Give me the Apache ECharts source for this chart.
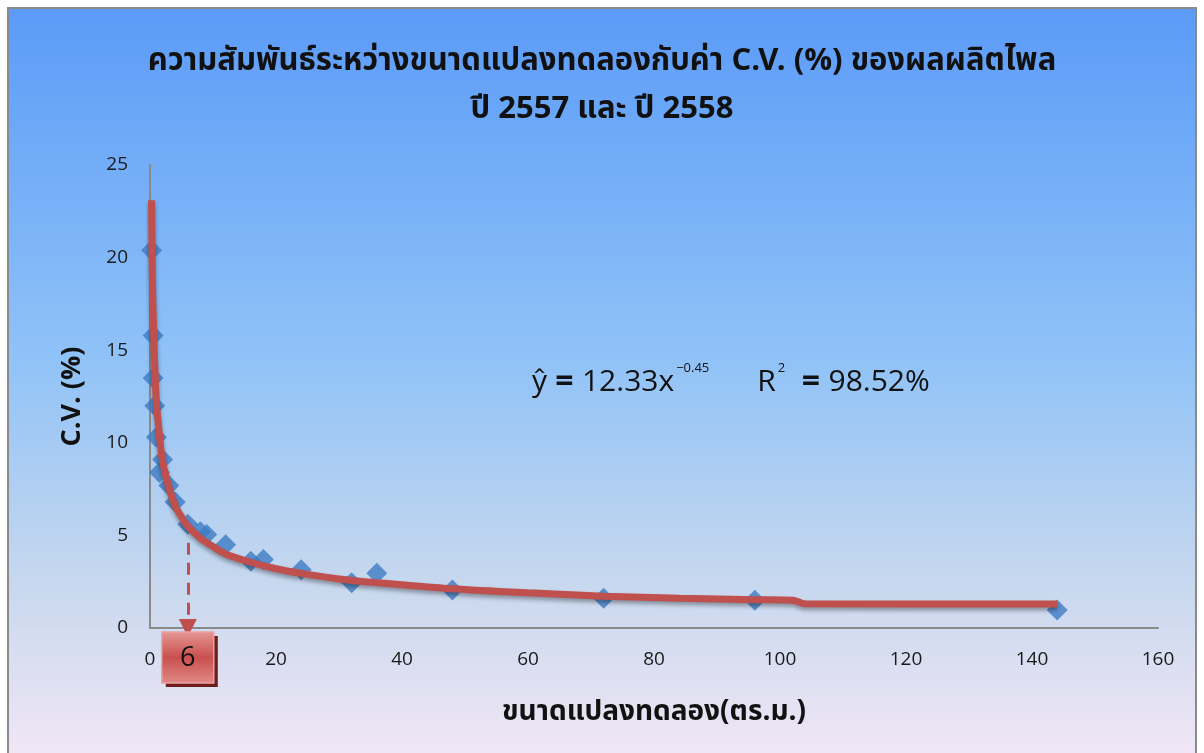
<!DOCTYPE html>
<html>
<head>
<meta charset="utf-8">
<script src="https://cdn.jsdelivr.net/npm/echarts@6/dist/echarts.min.js"></script>
<style>
  html, body { margin: 0; padding: 0; background: #fff; }
  #cv-chart { width: 1204px; height: 753px; }
</style>
</head>
<body>
<div id="cv-chart"></div>
<script>
// observed C.V. per plot size (diamonds)
const plotSizes = [0.25, 0.5, 0.5, 0.75, 1, 1.5, 2, 3, 4, 6, 8, 9, 12, 16, 18, 24, 32, 36, 48, 72, 96, 144];
const cvValues  = [20.4, 15.8, 13.5, 12.0, 10.3, 8.4, 9.1, 7.7, 6.8, 5.6, 5.2, 5.05, 4.5, 3.6, 3.7, 3.15, 2.45, 2.95, 2.05, 1.6, 1.5, 0.97];

// fitted curve as drawn in the picture
const curveX = [0.25, 0.35, 0.5, 0.75, 1, 1.5, 2, 3, 4, 5, 6, 8, 10, 12, 16, 20, 24, 30, 36, 48, 60, 72, 84, 96, 102, 104, 144];
const curveY = [23.1, 19.4, 16.9, 14.2, 12.3, 10.4, 9.0, 7.6, 6.6, 6.0, 5.5, 4.85, 4.4, 4.0, 3.55, 3.2, 2.95, 2.65, 2.45, 2.12, 1.9, 1.72, 1.6, 1.53, 1.5, 1.31, 1.3];

const optimalSize = 6;
const arrowTop = 4.6;

const titleText = 'ความสัมพันธ์ระหว่างขนาดแปลงทดลองกับค่า C.V. (%) ของผลผลิตไพล\nปี 2557 และ ปี 2558';
const xName = 'ขนาดแปลงทดลอง(ตร.ม.)';
const yName = 'C.V. (%)';

const thaiFont = 'Tahoma, "Noto Sans Thai", "Noto Sans", "DejaVu Sans", sans-serif';
const latinFont = '"Open Sans", "Noto Sans", sans-serif';
const red = '#c0504d';
const blue = '#3f7cc4';

const cvChart = echarts.init(document.getElementById('cv-chart'));

const option = {
  animation: false,
  title: {
    text: titleText,
    left: 'center',
    top: 35,
    textStyle: {
      fontFamily: thaiFont,
      fontSize: 31,
      fontWeight: 'bold',
      color: '#111',
      lineHeight: 48
    }
  },
  grid: {
    left: 150,
    right: 46,
    top: 165,
    bottom: 125
  },
  graphic: [
    {
      id: 'bg',
      type: 'rect',
      z: -100,
      silent: true,
      shape: { x: 8, y: 8, width: 1188, height: 770 },
      style: {
        fill: new echarts.graphic.LinearGradient(0, 0, 0, 1, [
          { offset: 0, color: '#5b9bf8' },
          { offset: 0.45, color: '#8fc2f7' },
          { offset: 0.75, color: '#c8d8ee' },
          { offset: 1, color: '#f6e8f6' }
        ]),
        stroke: '#8a8a8a',
        lineWidth: 2
      }
    },
    {
      id: 'eq',
      type: 'text',
      left: 532,
      top: 362,
      style: {
        text: '{a|ŷ}{e| = }{a|12.33x}{s|−0.45}{g| }{a|R}{s|2}{e|  = }{a|98.52%}',
        rich: {
          a: { fontFamily: latinFont, fontSize: 30, fill: '#111' },
          e: { fontFamily: latinFont, fontSize: 32, fontWeight: 'bold', fill: '#111' },
          g: { fontFamily: latinFont, fontSize: 30, width: 48 },
          s: { fontFamily: latinFont, fontSize: 13, fill: '#111', padding: [0, 0, 28, 2] }
        }
      }
    }
  ],
  xAxis: {
    type: 'value',
    min: 0,
    max: 160,
    interval: 20,
    name: xName,
    nameLocation: 'middle',
    nameGap: 72,
    nameTextStyle: { fontFamily: thaiFont, fontSize: 28, fontWeight: 'bold', color: '#111' },
    axisLine: { lineStyle: { color: '#8a8a8a', width: 2 } },
    axisTick: { show: false },
    splitLine: { show: false },
    axisLabel: { fontFamily: latinFont, fontSize: 19, color: '#1a1a1a', margin: 22 }
  },
  yAxis: {
    type: 'value',
    min: 0,
    max: 25,
    interval: 5,
    name: yName,
    nameLocation: 'middle',
    nameGap: 64,
    nameTextStyle: { fontFamily: latinFont, fontSize: 27, fontWeight: 'bold', color: '#111' },
    axisLine: { show: true, lineStyle: { color: '#8a8a8a', width: 2 } },
    axisTick: { show: false },
    splitLine: { show: false },
    axisLabel: { fontFamily: latinFont, fontSize: 19, color: '#1a1a1a', margin: 22 }
  },
  series: [
    {
      name: 'C.V.',
      type: 'scatter',
      symbol: 'diamond',
      symbolSize: [21, 21],
      z: 2,
      itemStyle: { color: blue },
      data: plotSizes.map((x, i) => [x, cvValues[i]])
    },
    {
      name: 'fit',
      type: 'line',
      smooth: 0.3,
      showSymbol: false,
      z: 3,
      clip: false,
      lineStyle: {
        color: red,
        width: 7,
        shadowColor: 'rgba(0,0,0,0.35)',
        shadowBlur: 4,
        shadowOffsetY: 3
      },
      data: curveX.map((x, i) => [x, curveY[i]]),
      markLine: {
        silent: true,
        symbol: ['none', 'triangle'],
        symbolSize: [18, 18],
        label: { show: false },
        lineStyle: { color: red, type: [12, 8], width: 3 },
        data: [[{ coord: [optimalSize, arrowTop] }, { coord: [optimalSize, 0] }]]
      }
    }
  ]
};

cvChart.setOption(option);

// red box with the chosen plot size under the x axis
const p = cvChart.convertToPixel({ gridIndex: 0 }, [optimalSize, 0]);
cvChart.setOption({
  graphic: [
    {
      id: 'boxShadow',
      type: 'rect',
      z: 10,
      shape: { x: p[0] - 22, y: p[1] + 8, width: 52, height: 51 },
      style: { fill: '#6e1d1b' }
    },
    {
      id: 'box',
      type: 'rect',
      z: 11,
      shape: { x: p[0] - 26, y: p[1] + 4, width: 52, height: 51 },
      style: {
        fill: new echarts.graphic.LinearGradient(0, 0, 0, 1, [
          { offset: 0, color: '#e49896' },
          { offset: 0.5, color: '#c9504d' },
          { offset: 1, color: '#e08a88' }
        ]),
        stroke: '#e9a3a1',
        lineWidth: 1.5
      }
    },
    {
      id: 'boxText',
      type: 'text',
      z: 12,
      x: p[0],
      y: p[1] + 30,
      style: {
        text: String(optimalSize),
        fontFamily: latinFont,
        fontSize: 27,
        fill: '#111',
        align: 'center',
        verticalAlign: 'middle'
      }
    }
  ]
});
</script>
</body>
</html>
